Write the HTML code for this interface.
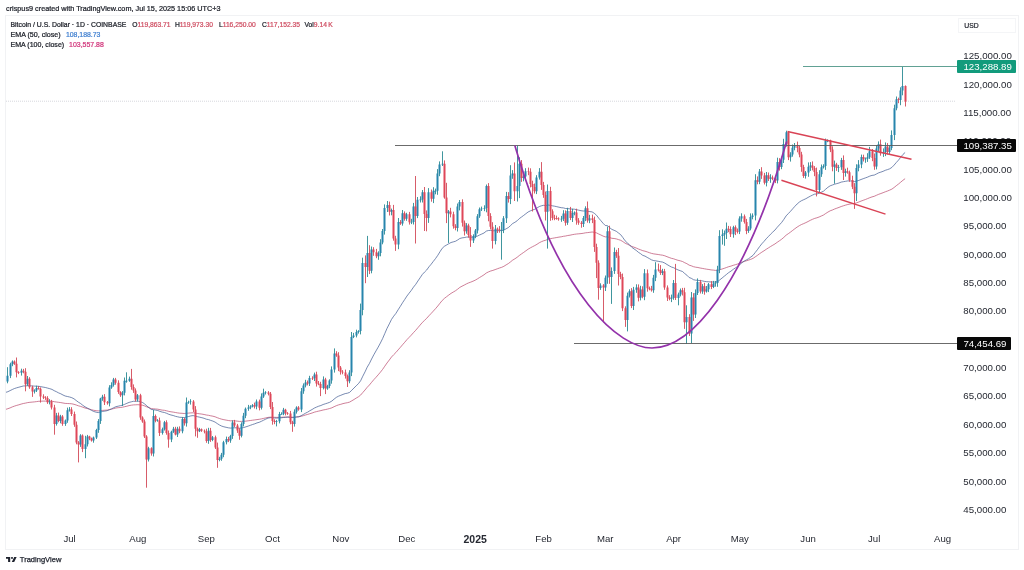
<!DOCTYPE html>
<html><head><meta charset="utf-8"><title>BTCUSD chart</title>
<style>
html,body{margin:0;padding:0;background:#fff;}
body{width:1024px;height:570px;position:relative;overflow:hidden;font-family:"Liberation Sans",sans-serif;color:#131722;}
.frame{position:absolute;left:5px;top:15px;width:1014px;height:534.5px;border:1px solid #f1f2f4;box-sizing:border-box;}
.hdr{-webkit-text-stroke:0.22px currentColor;position:absolute;left:6px;top:3.4px;font-size:7.27px;line-height:11px;color:#1a1d26;white-space:nowrap;}
.lg{position:absolute;-webkit-text-stroke:0.22px currentColor;font-size:7px;line-height:9px;white-space:nowrap;color:#1a1d26;}
.lg.v{font-size:6.72px;}
.lg .r{color:#cf4f63;} .lg.b{color:#3f7fd0;} .lg.p{color:#d1347a;}
.pl{position:absolute;left:963.3px;text-align:left;font-size:9.7px;line-height:12px;color:#262932;white-space:nowrap;}
.ml{position:absolute;top:533.2px;width:40px;text-align:center;font-size:9.6px;line-height:12px;color:#262932;}
.ml.b{font-weight:bold;font-size:10.5px;}
.tag{position:absolute;left:957px;height:12.8px;border-radius:1px;color:#fff;font-size:9.7px;line-height:13.4px;padding:0 4.2px 0 6.4px;white-space:nowrap;}
.usd{position:absolute;left:958px;top:17.5px;width:58px;height:15px;border:1px solid #f4f5f7;box-sizing:border-box;font-size:6.8px;line-height:14.4px;padding-left:5.3px;color:#1a1d26;-webkit-text-stroke:0.2px currentColor;}
.logo{position:absolute;left:6px;top:554px;font-size:7.55px;line-height:12px;font-weight:bold;color:#1e222d;white-space:nowrap;}
.logo span{position:absolute;left:13.8px;top:0;font-weight:normal;-webkit-text-stroke:0.25px currentColor;}
</style></head><body>
<div class="hdr">crispus9 created with TradingView.com, Jul 15, 2025 15:06 UTC+3</div>
<div class="frame"></div>
<div class="lg" style="top:20.3px;left:10.5px;font-size:6.87px">Bitcoin / U.S. Dollar &middot; 1D &middot; COINBASE</div>
<div class="lg v" style="top:20.3px;left:132.2px">O<span class="r">119,863.71</span></div>
<div class="lg v" style="top:20.3px;left:174.9px">H<span class="r">119,973.30</span></div>
<div class="lg v" style="top:20.3px;left:218.9px">L<span class="r">116,250.00</span></div>
<div class="lg v" style="top:20.3px;left:262px">C<span class="r">117,152.35</span></div>
<div class="lg v" style="top:20.3px;left:304.5px">Vol<span class="r">9.14&#8201;K</span></div>
<div class="lg" style="top:30.7px;left:10.5px;font-size:7.1px">EMA (50, close)</div><div class="lg b" style="top:30.2px;left:65.9px;font-size:6.9px">108,188.73</div>
<div class="lg" style="top:39.6px;left:10.5px;font-size:7.05px">EMA (100, close)</div><div class="lg p" style="top:39.6px;left:69.1px;font-size:6.95px">103,557.88</div>
<div class="usd">USD</div>
<div class="pl" style="top:50.1px">125,000.00</div><div class="pl" style="top:78.5px">120,000.00</div><div class="pl" style="top:106.8px">115,000.00</div><div class="pl" style="top:135.2px">110,000.00</div><div class="pl" style="top:163.5px">105,000.00</div><div class="pl" style="top:191.9px">100,000.00</div><div class="pl" style="top:220.3px">95,000.00</div><div class="pl" style="top:248.6px">90,000.00</div><div class="pl" style="top:277.0px">85,000.00</div><div class="pl" style="top:305.3px">80,000.00</div><div class="pl" style="top:333.7px">75,000.00</div><div class="pl" style="top:362.1px">70,000.00</div><div class="pl" style="top:390.4px">65,000.00</div><div class="pl" style="top:418.8px">60,000.00</div><div class="pl" style="top:447.1px">55,000.00</div><div class="pl" style="top:475.5px">50,000.00</div><div class="pl" style="top:503.9px">45,000.00</div><div class="ml" style="left:49.6px">Jul</div><div class="ml" style="left:117.9px">Aug</div><div class="ml" style="left:186.3px">Sep</div><div class="ml" style="left:252.4px">Oct</div><div class="ml" style="left:320.8px">Nov</div><div class="ml" style="left:386.9px">Dec</div><div class="ml b" style="left:455.2px">2025</div><div class="ml" style="left:523.6px">Feb</div><div class="ml" style="left:585.3px">Mar</div><div class="ml" style="left:653.6px">Apr</div><div class="ml" style="left:719.8px">May</div><div class="ml" style="left:788.1px">Jun</div><div class="ml" style="left:854.2px">Jul</div><div class="ml" style="left:922.6px">Aug</div><svg width="1024" height="570" viewBox="0 0 1024 570" style="position:absolute;left:0;top:0">
<defs><clipPath id="cp"><rect x="6" y="16" width="951" height="533"/></clipPath></defs>
<line x1="6" y1="101.2" x2="956" y2="101.2" stroke="#c4c7ce" stroke-width="1" stroke-dasharray="1 1" opacity="0.7"/>
<g clip-path="url(#cp)">
<polyline points="5.7,409.4 7.9,408.7 10.1,407.9 12.3,406.9 14.5,406.1 16.7,405.4 18.9,404.8 21.1,404.1 23.3,403.5 25.5,403.1 27.7,402.6 29.9,402.3 32.1,402.1 34.3,401.9 36.5,401.6 38.7,401.3 40.9,401.2 43.1,401.1 45.4,401.1 47.6,401.1 49.8,401.1 52.0,401.2 54.2,401.7 56.4,402.0 58.6,402.3 60.8,402.6 63.0,403.0 65.2,403.4 67.4,403.5 69.6,403.6 71.8,403.8 74.0,404.3 76.2,405.0 78.4,405.8 80.6,406.4 82.8,407.2 85.0,408.0 87.2,408.5 89.4,409.1 91.6,409.8 93.8,410.3 96.1,410.7 98.3,410.9 100.5,410.7 102.7,410.4 104.9,410.2 107.1,410.1 109.3,409.6 111.5,409.1 113.7,408.6 115.9,408.0 118.1,407.7 120.3,407.5 122.5,407.2 124.7,406.7 126.9,406.2 129.1,405.6 131.3,405.2 133.5,404.9 135.7,404.8 137.9,404.7 140.1,404.9 142.3,405.2 144.6,405.9 146.8,406.9 149.0,407.7 151.2,408.6 153.4,408.8 155.6,409.0 157.8,409.2 160.0,409.7 162.2,410.1 164.4,410.3 166.6,410.8 168.8,411.4 171.0,411.8 173.2,412.1 175.4,412.5 177.6,412.9 179.8,413.2 182.0,413.3 184.2,413.5 186.4,413.3 188.6,413.1 190.8,412.9 193.1,412.8 195.3,413.1 197.5,413.5 199.7,413.8 201.9,414.1 204.1,414.5 206.3,415.0 208.5,415.3 210.7,415.8 212.9,416.2 215.1,416.8 217.3,417.7 219.5,418.5 221.7,419.2 223.9,419.7 226.1,420.1 228.3,420.5 230.5,420.8 232.7,420.8 234.9,420.9 237.1,421.1 239.3,421.4 241.6,421.4 243.8,421.3 246.0,421.1 248.2,420.8 250.4,420.5 252.6,420.2 254.8,419.9 257.0,419.6 259.2,419.3 261.4,418.9 263.6,418.4 265.8,417.9 268.0,417.4 270.2,417.2 272.4,417.2 274.6,417.3 276.8,417.4 279.0,417.3 281.2,417.3 283.4,417.1 285.6,417.1 287.8,417.0 290.0,417.1 292.3,417.2 294.5,417.1 296.7,416.9 298.9,416.8 301.1,416.3 303.3,415.7 305.5,415.0 307.7,414.4 309.9,413.7 312.1,413.0 314.3,412.2 316.5,411.6 318.7,411.1 320.9,410.6 323.1,410.0 325.3,409.6 327.5,409.1 329.7,408.5 331.9,407.8 334.1,406.7 336.3,405.7 338.5,404.9 340.8,404.3 343.0,403.6 345.2,403.1 347.4,402.7 349.6,402.1 351.8,400.8 354.0,399.5 356.2,398.1 358.4,396.8 360.6,395.1 362.8,392.5 365.0,390.0 367.2,387.3 369.4,385.0 371.6,382.3 373.8,379.7 376.0,377.3 378.2,374.8 380.4,372.2 382.6,369.4 384.8,366.2 387.0,363.0 389.3,360.0 391.5,357.0 393.7,354.7 395.9,352.5 398.1,349.9 400.3,347.4 402.5,344.8 404.7,342.3 406.9,339.7 409.1,337.4 411.3,335.1 413.5,332.6 415.7,330.3 417.9,327.7 420.1,325.1 422.3,322.5 424.5,320.4 426.7,318.3 428.9,315.8 431.1,313.5 433.3,311.1 435.5,308.7 437.8,306.0 440.0,303.2 442.2,300.5 444.4,298.4 446.6,296.7 448.8,295.0 451.0,293.4 453.2,292.1 455.4,290.8 457.6,289.2 459.8,287.4 462.0,286.2 464.2,285.1 466.4,283.9 468.6,282.9 470.8,282.1 473.0,281.2 475.2,280.2 477.4,278.9 479.6,277.5 481.8,276.2 484.0,274.8 486.3,273.0 488.5,271.9 490.7,271.0 492.9,270.4 495.1,269.6 497.3,268.8 499.5,268.0 501.7,267.3 503.9,266.3 506.1,264.9 508.3,263.6 510.5,261.9 512.7,260.1 514.9,258.8 517.1,257.3 519.3,255.5 521.5,253.9 523.7,252.4 525.9,250.8 528.1,249.2 530.3,247.9 532.5,246.7 534.7,245.6 537.0,244.3 539.2,242.8 541.4,241.7 543.6,240.8 545.8,240.2 548.0,239.2 550.2,238.7 552.4,238.3 554.6,237.9 556.8,237.5 559.0,237.1 561.2,236.8 563.4,236.3 565.6,236.0 567.8,235.5 570.0,235.2 572.2,234.7 574.4,234.3 576.6,234.0 578.8,233.8 581.0,233.6 583.2,233.3 585.5,232.8 587.7,232.6 589.9,232.3 592.1,232.0 594.3,232.3 596.5,232.9 598.7,234.0 600.9,235.0 603.1,236.1 605.3,236.9 607.5,236.8 609.7,237.6 611.9,238.3 614.1,238.5 616.3,238.9 618.5,239.6 620.7,240.3 622.9,241.6 625.1,243.2 627.3,244.2 629.5,245.2 631.7,246.4 634.0,247.2 636.2,248.0 638.4,249.0 640.6,249.8 642.8,250.7 645.0,251.2 647.2,251.9 649.4,252.7 651.6,253.4 653.8,253.9 656.0,254.2 658.2,254.5 660.4,254.9 662.6,255.2 664.8,255.8 667.0,256.7 669.2,257.5 671.4,258.3 673.6,258.8 675.8,259.6 678.0,260.3 680.2,260.8 682.5,261.5 684.7,262.7 686.9,263.7 689.1,265.1 691.3,265.8 693.5,266.7 695.7,267.2 697.9,267.5 700.1,268.0 702.3,268.4 704.5,268.8 706.7,269.2 708.9,269.5 711.1,269.9 713.3,270.1 715.5,270.4 717.7,270.4 719.9,269.7 722.1,269.0 724.3,268.3 726.5,267.5 728.7,266.7 731.0,266.1 733.2,265.3 735.4,264.7 737.6,264.0 739.8,263.1 742.0,262.2 744.2,261.4 746.4,260.8 748.6,260.1 750.8,259.3 753.0,258.4 755.2,256.9 757.4,255.4 759.6,253.7 761.8,252.2 764.0,250.8 766.2,249.3 768.4,247.9 770.6,246.5 772.8,245.2 775.0,243.9 777.2,242.3 779.4,240.8 781.7,239.2 783.9,237.3 786.1,235.2 788.3,233.7 790.5,232.1 792.7,230.4 794.9,228.7 797.1,227.1 799.3,225.7 801.5,224.5 803.7,223.6 805.9,222.6 808.1,221.5 810.3,220.3 812.5,219.3 814.7,218.4 816.9,217.8 819.1,217.0 821.3,216.0 823.5,215.0 825.7,213.5 827.9,212.1 830.2,210.8 832.4,210.0 834.6,209.0 836.8,208.2 839.0,207.4 841.2,206.5 843.4,205.8 845.6,205.1 847.8,204.5 850.0,204.0 852.2,203.7 854.4,203.5 856.6,202.8 858.8,202.0 861.0,201.1 863.2,200.3 865.4,199.5 867.6,198.6 869.8,197.7 872.0,196.9 874.2,196.3 876.4,195.3 878.7,194.3 880.9,193.5 883.1,192.7 885.3,191.8 887.5,191.0 889.7,190.1 891.9,189.1 894.1,187.5 896.3,185.7 898.5,184.0 900.7,182.2 902.9,180.3 905.1,178.7" fill="none" stroke="#b9486b" stroke-width="0.7" stroke-linejoin="round"/>
<polyline points="5.7,392.4 7.9,391.7 10.1,390.6 12.3,389.5 14.5,388.5 16.7,387.8 18.9,387.2 21.1,386.6 23.3,386.0 25.5,385.9 27.7,385.7 29.9,385.7 32.1,386.0 34.3,386.1 36.5,386.2 38.7,386.3 40.9,386.7 43.1,387.1 45.4,387.5 47.6,388.1 49.8,388.7 52.0,389.4 54.2,390.7 56.4,391.7 58.6,392.9 60.8,393.8 63.0,395.0 65.2,396.0 67.4,396.5 69.6,397.0 71.8,397.7 74.0,398.8 76.2,400.5 78.4,402.2 80.6,403.5 82.8,405.3 85.0,406.8 87.2,408.0 89.4,409.2 91.6,410.4 93.8,411.5 96.1,412.2 98.3,412.6 100.5,412.0 102.7,411.4 104.9,411.1 107.1,410.7 109.3,409.8 111.5,408.9 113.7,407.7 115.9,406.7 118.1,406.2 120.3,405.7 122.5,405.2 124.7,404.3 126.9,403.3 129.1,402.4 131.3,401.8 133.5,401.3 135.7,401.3 137.9,401.0 140.1,401.7 142.3,402.4 144.6,403.8 146.8,406.0 149.0,407.6 151.2,409.4 153.4,409.7 155.6,410.1 157.8,410.5 160.0,411.4 162.2,412.1 164.4,412.5 166.6,413.3 168.8,414.3 171.0,415.0 173.2,415.5 175.4,416.3 177.6,416.8 179.8,417.3 182.0,417.4 184.2,417.6 186.4,417.0 188.6,416.5 190.8,415.9 193.1,415.6 195.3,416.1 197.5,416.7 199.7,417.2 201.9,417.7 204.1,418.3 206.3,419.2 208.5,419.6 210.7,420.4 212.9,421.1 215.1,422.1 217.3,423.6 219.5,425.0 221.7,426.1 223.9,426.8 226.1,427.3 228.3,427.8 230.5,428.1 232.7,427.9 234.9,427.8 237.1,427.9 239.3,428.2 241.6,428.0 243.8,427.5 246.0,426.8 248.2,426.1 250.4,425.3 252.6,424.5 254.8,423.8 257.0,422.9 259.2,422.3 261.4,421.3 263.6,420.2 265.8,419.1 268.0,418.1 270.2,417.7 272.4,417.8 274.6,418.0 276.8,418.1 279.0,417.9 281.2,417.8 283.4,417.5 285.6,417.3 287.8,417.1 290.0,417.3 292.3,417.6 294.5,417.4 296.7,417.0 298.9,416.7 301.1,415.7 303.3,414.5 305.5,413.2 307.7,412.1 309.9,410.7 312.1,409.5 314.3,408.1 316.5,407.1 318.7,406.2 320.9,405.5 323.1,404.5 325.3,403.8 327.5,403.1 329.7,402.3 331.9,401.0 334.1,399.1 336.3,397.4 338.5,396.2 340.8,395.3 343.0,394.4 345.2,393.6 347.4,393.2 349.6,392.4 351.8,390.2 354.0,388.0 356.2,385.8 358.4,383.7 360.6,380.8 362.8,376.2 365.0,371.9 367.2,367.2 369.4,363.5 371.6,359.0 373.8,354.8 376.0,350.9 378.2,347.1 380.4,343.0 382.6,338.6 384.8,333.5 387.0,328.4 389.3,323.9 391.5,319.4 393.7,316.2 395.9,313.4 398.1,309.8 400.3,306.4 402.5,302.8 404.7,299.5 406.9,296.1 409.1,293.2 411.3,290.4 413.5,287.1 415.7,284.4 417.9,281.0 420.1,277.8 422.3,274.5 424.5,272.1 426.7,270.0 428.9,266.9 431.1,264.3 433.3,261.4 435.5,258.6 437.8,255.3 440.0,251.7 442.2,248.3 444.4,246.3 446.6,245.0 448.8,243.7 451.0,242.5 453.2,241.9 455.4,241.3 457.6,240.0 459.8,238.5 462.0,237.9 464.2,237.6 466.4,237.1 468.6,237.0 470.8,237.2 473.0,237.1 475.2,236.9 477.4,236.1 479.6,235.0 481.8,234.0 484.0,233.0 486.3,231.1 488.5,230.5 490.7,230.4 492.9,230.8 495.1,230.7 497.3,230.7 499.5,230.6 501.7,230.6 503.9,230.1 506.1,228.8 508.3,227.6 510.5,225.6 512.7,223.5 514.9,222.3 517.1,220.8 519.3,218.6 521.5,217.0 523.7,215.4 525.9,213.7 528.1,212.0 530.3,210.9 532.5,210.0 534.7,209.3 537.0,208.0 539.2,206.6 541.4,205.8 543.6,205.3 545.8,205.6 548.0,205.0 550.2,205.3 552.4,205.8 554.6,206.2 556.8,206.7 559.0,207.2 561.2,207.7 563.4,207.9 565.6,208.5 567.8,208.6 570.0,208.9 572.2,209.1 574.4,209.2 576.6,209.7 578.8,210.2 581.0,210.7 583.2,211.0 585.5,210.9 587.7,211.3 589.9,211.6 592.1,211.9 594.3,213.3 596.5,215.2 598.7,218.1 600.9,220.7 603.1,223.3 605.3,225.5 607.5,225.7 609.7,227.7 611.9,229.4 614.1,230.3 616.3,231.3 618.5,233.0 620.7,234.7 622.9,237.6 625.1,240.8 627.3,242.9 629.5,244.8 631.7,247.2 634.0,248.9 636.2,250.4 638.4,252.3 640.6,253.7 642.8,255.4 645.0,256.1 647.2,257.4 649.4,258.6 651.6,259.9 653.8,260.6 656.0,260.9 658.2,261.3 660.4,261.7 662.6,262.1 664.8,263.1 667.0,264.5 669.2,265.8 671.4,267.0 673.6,267.7 675.8,268.9 678.0,269.9 680.2,270.7 682.5,271.5 684.7,273.5 686.9,275.2 689.1,277.5 691.3,278.3 693.5,279.7 695.7,280.2 697.9,280.3 700.1,280.7 702.3,280.9 704.5,281.4 706.7,281.7 708.9,281.8 711.1,282.0 713.3,282.0 715.5,282.1 717.7,281.6 719.9,279.8 722.1,278.0 724.3,276.2 726.5,274.4 728.7,272.6 731.0,271.1 733.2,269.4 735.4,267.9 737.6,266.5 739.8,264.6 742.0,262.7 744.2,261.1 746.4,259.9 748.6,258.7 750.8,257.0 753.0,255.4 755.2,252.5 757.4,249.7 759.6,246.6 761.8,243.8 764.0,241.4 766.2,238.8 768.4,236.5 770.6,234.2 772.8,232.0 775.0,230.0 777.2,227.3 779.4,224.9 781.7,222.4 783.9,219.3 786.1,215.9 788.3,213.6 790.5,211.3 792.7,208.8 794.9,206.3 797.1,204.0 799.3,202.1 801.5,200.7 803.7,199.7 805.9,198.7 808.1,197.4 810.3,196.2 812.5,195.1 814.7,194.1 816.9,194.0 819.1,193.2 821.3,192.2 823.5,191.2 825.7,189.2 827.9,187.3 830.2,185.8 832.4,185.0 834.6,184.2 836.8,183.6 839.0,183.0 841.2,182.1 843.4,181.7 845.6,181.3 847.8,180.9 850.0,180.9 852.2,181.1 854.4,181.6 856.6,181.1 858.8,180.4 861.0,179.5 863.2,178.7 865.4,177.9 867.6,177.1 869.8,176.1 872.0,175.4 874.2,175.1 876.4,174.0 878.7,172.8 880.9,172.1 883.1,171.3 885.3,170.3 887.5,169.6 889.7,168.8 891.9,167.4 894.1,165.1 896.3,162.5 898.5,160.1 900.7,157.3 902.9,154.5 905.1,152.5" fill="none" stroke="#3d588f" stroke-width="0.7" stroke-linejoin="round"/>
<path d="M7.50 367.2V383.3M10.50 362.7V378.1M12.50 360.4V366.2M21.50 368.7V375.6M27.50 376.0V385.8M34.50 389.3V393.5M36.50 385.7V392.0M49.50 399.2V404.4M56.50 412.9V425.6M60.50 414.8V423.3M65.50 419.5V425.9M67.50 407.6V422.8M69.50 407.1V411.6M80.50 434.2V446.9M85.50 435.8V458.2M87.50 434.9V446.5M93.50 436.6V442.7M96.50 428.8V439.0M98.50 419.1V432.8M100.50 397.8V423.9M102.50 394.8V400.8M109.50 385.2V406.4M111.50 382.3V388.8M113.50 377.9V386.6M122.50 391.1V406.0M124.50 377.5V395.4M126.50 372.3V382.7M129.50 376.6V381.8M137.50 394.0V401.6M148.50 446.8V461.5M153.50 410.0V456.5M157.50 419.1V421.7M162.50 427.6V434.6M164.50 420.9V430.5M171.50 430.7V442.1M173.50 426.9V432.9M177.50 426.8V437.0M182.50 417.2V433.3M186.50 397.5V426.6M188.50 400.7V403.8M190.50 399.2V404.6M199.50 427.9V432.1M208.50 427.8V443.8M212.50 436.0V441.2M219.50 456.8V461.3M221.50 452.9V460.8M223.50 440.8V457.2M226.50 436.6V444.4M230.50 434.8V442.8M232.50 420.4V438.9M241.50 422.3V437.4M243.50 412.9V426.4M245.50 407.5V418.2M248.50 404.9V410.8M250.50 405.2V409.2M252.50 404.1V407.4M256.50 399.5V409.3M261.50 393.4V409.5M263.50 388.7V397.9M265.50 391.2V394.5M276.50 419.9V426.4M279.50 411.9V423.4M281.50 412.3V414.7M283.50 407.9V415.2M294.50 409.3V426.6M296.50 406.3V413.6M301.50 388.0V412.1M303.50 383.4V393.8M305.50 379.8V387.4M309.50 375.8V386.0M314.50 372.6V381.0M323.50 376.4V389.4M327.50 384.8V389.8M329.50 379.3V388.2M331.50 366.4V383.7M334.50 348.4V372.6M349.50 370.2V383.3M351.50 332.0V376.1M353.50 332.9V338.1M356.50 329.7V337.4M358.50 330.2V333.6M360.50 303.6V334.4M362.50 257.7V315.3M367.50 235.9V277.0M371.50 246.5V273.3M378.50 251.3V259.8M380.50 239.2V256.3M382.50 229.0V244.3M384.50 204.4V234.6M387.50 201.0V212.0M391.50 208.6V215.3M398.50 218.0V249.2M402.50 210.0V225.7M406.50 212.8V220.8M411.50 218.8V224.1M413.50 202.9V224.5M417.50 197.0V218.1M420.50 196.3V202.5M422.50 190.0V202.5M428.50 188.1V222.9M433.50 187.2V203.1M435.50 188.6V194.3M437.50 169.1V194.8M439.50 161.4V176.2M442.50 151.3V166.0M448.50 210.0V242.9M457.50 203.5V231.5M459.50 200.0V210.4M466.50 223.1V233.7M473.50 234.3V243.0M475.50 229.0V238.2M477.50 214.1V233.5M479.50 207.5V217.9M481.50 206.6V211.0M484.50 205.3V211.2M486.50 184.5V212.3M495.50 225.0V244.4M501.50 222.0V259.7M503.50 216.1V233.1M506.50 191.9V223.0M510.50 165.2V204.1M512.50 170.1V178.8M517.50 145.7V201.5M519.50 157.3V198.1M523.50 173.5V181.3M525.50 168.2V178.1M536.50 175.2V194.1M539.50 168.1V179.6M547.50 184.5V248.6M561.50 215.9V221.8M563.50 210.2V221.0M567.50 207.8V224.9M572.50 208.8V222.0M574.50 211.4V215.3M583.50 216.0V227.0M585.50 206.3V221.1M589.50 214.8V223.2M600.50 283.3V289.9M605.50 275.5V291.0M607.50 226.5V283.8M611.50 267.4V303.9M614.50 247.5V273.9M627.50 292.6V331.4M629.50 289.3V297.5M633.50 286.9V310.0M636.50 284.3V292.8M640.50 285.8V300.4M644.50 269.1V300.2M653.50 274.9V292.8M655.50 262.2V281.1M662.50 268.8V275.1M671.50 294.6V302.1M673.50 280.0V299.8M678.50 292.6V305.3M680.50 288.5V296.4M686.50 305.3V343.9M691.50 292.0V343.1M695.50 289.4V318.0M697.50 278.4V295.0M702.50 284.1V293.8M706.50 286.0V292.6M708.50 283.0V292.1M713.50 280.9V288.1M715.50 281.0V286.7M717.50 265.8V286.8M719.50 230.2V273.2M722.50 229.3V244.6M724.50 230.5V245.8M726.50 222.5V239.0M733.50 225.8V237.7M739.50 216.3V234.1M741.50 213.3V221.7M748.50 226.2V232.9M750.50 213.4V230.3M752.50 213.4V219.3M755.50 174.2V220.4M759.50 169.0V184.2M766.50 172.0V186.4M770.50 174.2V182.8M777.50 157.7V183.4M781.50 156.7V169.2M783.50 138.8V163.0M786.50 130.7V146.6M790.50 152.2V161.6M792.50 144.5V156.7M794.50 143.0V150.3M805.50 171.0V178.6M808.50 162.4V176.8M810.50 162.1V170.9M819.50 170.2V193.1M821.50 164.5V176.9M823.50 164.3V168.5M825.50 138.6V169.9M827.50 139.4V142.2M834.50 160.6V183.7M838.50 164.9V172.1M841.50 157.9V169.9M845.50 168.7V176.6M856.50 164.3V201.0M858.50 160.1V171.3M861.50 154.6V168.2M865.50 157.5V162.8M867.50 153.2V161.9M869.50 146.9V158.9M876.50 145.0V169.4M878.50 141.4V151.5M883.50 148.4V156.9M885.50 142.4V156.1M889.50 145.5V154.5M891.50 130.4V150.2M894.50 104.7V140.1M896.50 96.5V110.3M900.50 87.3V105.2M902.50 66.9V95.3" stroke="#2a8a93" stroke-width="0.9" fill="none"/>
<path d="M14.50 360.4V364.9M16.50 357.5V377.4M18.50 371.2V374.1M23.50 368.9V373.3M25.50 368.2V391.3M29.50 377.2V388.8M32.50 385.7V396.9M38.50 386.0V389.6M40.50 387.4V402.6M43.50 394.3V399.1M45.50 396.2V399.9M47.50 396.2V403.9M51.50 399.9V409.5M54.50 404.8V434.7M58.50 412.6V422.3M62.50 415.1V425.8M71.50 407.2V416.0M74.50 411.6V426.8M76.50 421.5V444.3M78.50 441.1V462.4M82.50 434.4V452.1M89.50 435.8V440.2M91.50 437.6V441.6M104.50 394.1V405.0M107.50 401.0V404.7M115.50 377.9V384.7M118.50 380.3V393.9M120.50 391.2V396.9M131.50 368.9V389.7M133.50 384.4V392.9M135.50 388.4V401.5M140.50 393.8V419.8M142.50 416.3V422.8M144.50 419.5V438.0M146.50 435.2V487.7M151.50 447.3V455.7M155.50 414.5V422.3M159.50 417.6V436.0M166.50 420.3V434.7M168.50 430.5V447.7M175.50 426.8V435.4M179.50 426.4V433.2M184.50 417.8V425.6M193.50 400.1V412.0M195.50 406.1V436.4M197.50 427.5V437.8M201.50 428.5V431.9M204.50 429.5V433.4M206.50 428.7V442.8M210.50 427.9V441.9M215.50 435.6V449.0M217.50 442.6V467.8M228.50 436.9V442.1M234.50 419.9V427.1M237.50 423.9V432.9M239.50 428.2V439.8M254.50 402.6V408.5M259.50 399.6V410.4M268.50 391.1V395.4M270.50 392.0V409.1M272.50 402.0V424.7M274.50 419.3V424.2M285.50 408.8V415.4M287.50 412.1V414.9M290.50 410.9V424.3M292.50 420.8V431.8M298.50 406.1V410.7M307.50 380.5V385.4M312.50 376.3V380.0M316.50 371.7V386.6M318.50 381.0V385.2M320.50 381.8V396.1M325.50 377.8V394.1M336.50 351.2V356.8M338.50 352.2V371.1M340.50 366.0V374.6M342.50 370.1V374.3M345.50 369.6V378.6M347.50 374.5V387.0M365.50 255.4V283.2M369.50 245.2V274.1M373.50 247.2V255.8M376.50 248.9V258.2M389.50 201.6V215.5M393.50 204.9V240.7M395.50 235.8V250.9M400.50 220.1V224.9M404.50 211.4V220.7M409.50 211.9V224.6M415.50 176.0V243.5M424.50 187.0V231.0M426.50 210.4V231.3M431.50 189.5V201.7M444.50 160.4V198.7M446.50 182.8V223.1M450.50 207.8V217.4M453.50 211.7V228.7M455.50 224.2V230.3M462.50 199.3V226.6M464.50 220.5V235.5M468.50 223.7V237.7M470.50 227.1V246.9M488.50 183.1V221.3M490.50 213.2V229.4M492.50 222.2V248.6M497.50 227.5V233.0M499.50 226.1V232.7M508.50 192.2V202.6M514.50 162.4V201.0M521.50 160.1V181.9M528.50 167.6V175.2M530.50 168.3V187.4M532.50 180.7V211.5M534.50 183.5V193.5M541.50 162.1V189.9M543.50 181.9V197.8M545.50 191.5V220.5M550.50 186.8V220.8M552.50 209.3V220.2M554.50 214.8V220.2M556.50 215.6V219.7M558.50 217.3V220.7M565.50 210.4V225.7M570.50 206.9V220.1M576.50 208.7V224.7M578.50 218.1V224.8M581.50 221.1V227.7M587.50 201.5V222.7M592.50 214.6V223.1M594.50 216.6V251.9M596.50 243.7V278.1M598.50 260.3V299.7M603.50 284.1V322.3M609.50 225.7V283.8M616.50 249.8V257.9M618.50 248.0V285.5M620.50 271.8V279.2M622.50 273.5V311.1M625.50 306.3V326.9M631.50 288.1V308.1M638.50 284.4V301.4M642.50 286.3V298.3M647.50 269.5V291.7M649.50 286.6V290.3M651.50 285.9V291.6M658.50 263.6V271.5M660.50 265.1V274.9M664.50 268.9V289.8M667.50 285.4V301.0M669.50 295.2V300.3M675.50 263.9V300.0M682.50 287.9V295.5M684.50 287.8V328.9M689.50 314.2V336.0M693.50 293.2V320.9M700.50 279.9V293.5M704.50 282.8V294.7M711.50 281.1V289.1M728.50 225.9V232.2M730.50 226.4V237.0M735.50 225.4V235.1M737.50 228.5V233.5M744.50 214.5V223.6M746.50 218.9V234.2M757.50 176.4V184.3M761.50 167.2V178.9M764.50 172.9V184.5M768.50 172.5V181.0M772.50 175.5V180.2M775.50 176.6V183.1M779.50 158.2V170.6M788.50 131.8V160.1M797.50 141.6V152.3M799.50 145.9V157.3M801.50 151.8V171.8M803.50 164.8V177.9M812.50 161.4V170.4M814.50 166.1V176.2M816.50 167.6V196.4M830.50 139.7V152.1M832.50 146.3V171.3M836.50 162.8V170.9M843.50 155.4V180.0M847.50 167.7V173.7M849.50 170.6V181.8M852.50 175.7V189.1M854.50 183.1V208.9M863.50 154.7V161.5M872.50 149.0V161.2M874.50 153.5V169.8M880.50 139.6V155.7M887.50 143.1V154.5M898.50 97.7V103.2M905.50 85.4V106.5" stroke="#d24a58" stroke-width="0.9" fill="none"/>
<path d="M7.50 375.7V381.5M10.50 364.3V375.7M12.50 361.5V364.3M21.50 370.8V372.8M27.50 378.8V384.2M34.50 390.4V391.5M36.50 387.9V390.4M49.50 401.5V402.3M56.50 415.4V423.9M60.50 416.5V421.0M65.50 420.5V423.9M67.50 410.3V420.5M69.50 409.4V410.3M80.50 435.5V444.6M85.50 444.3V449.1M87.50 436.6V444.3M93.50 437.5V440.6M96.50 430.1V437.5M98.50 421.0V430.1M100.50 398.4V421.0M102.50 396.7V398.4M109.50 387.6V403.2M111.50 385.0V387.6M113.50 379.4V385.0M122.50 392.7V395.2M124.50 380.8V392.7M126.50 380.8V381.4M129.50 378.8V380.8M137.50 395.2V399.5M148.50 448.3V459.6M153.50 415.9V453.4M157.50 420.5V421.1M162.50 429.3V433.0M164.50 422.2V429.3M171.50 431.8V439.5M173.50 428.7V431.8M177.50 428.7V434.4M182.50 419.1V431.3M186.50 402.6V423.3M188.50 402.0V402.6M190.50 401.5V402.1M199.50 429.3V431.3M208.50 430.7V440.9M212.50 437.2V440.0M219.50 458.8V459.9M221.50 454.8V458.8M223.50 442.3V454.8M226.50 438.9V442.3M230.50 436.1V440.6M232.50 422.5V436.1M241.50 423.9V435.8M243.50 415.7V423.9M245.50 408.8V415.7M248.50 407.4V408.8M250.50 406.6V407.4M252.50 405.2V406.6M256.50 401.5V406.6M261.50 396.4V407.7M263.50 392.7V396.4M265.50 392.4V393.0M276.50 421.3V421.9M279.50 414.0V421.3M281.50 414.0V414.6M283.50 409.7V414.0M294.50 411.7V423.9M296.50 407.4V411.7M301.50 391.3V409.4M303.50 385.6V391.3M305.50 382.5V385.6M309.50 377.9V383.6M314.50 374.5V378.2M323.50 379.4V387.9M327.50 385.9V388.4M329.50 380.5V385.9M331.50 369.4V380.5M334.50 353.5V369.4M349.50 372.5V381.3M351.50 337.1V372.5M353.50 335.4V337.1M356.50 332.0V335.4M358.50 331.1V332.0M360.50 309.9V331.1M362.50 263.1V309.9M367.50 252.9V267.0M371.50 249.5V270.7M378.50 252.9V256.3M380.50 242.4V252.9M382.50 231.0V242.4M384.50 208.1V231.0M387.50 204.9V208.1M391.50 210.0V211.7M398.50 222.0V244.4M402.50 213.2V223.4M406.50 214.3V218.8M411.50 222.0V222.6M413.50 206.4V222.0M417.50 199.8V216.0M420.50 199.6V200.2M422.50 192.2V199.6M428.50 192.2V218.0M433.50 190.8V198.7M435.50 190.8V191.4M437.50 173.5V190.8M439.50 164.4V173.5M442.50 163.8V164.4M448.50 211.5V213.2M457.50 206.4V227.9M459.50 202.1V206.4M466.50 225.4V231.3M473.50 236.1V240.4M475.50 230.5V236.1M477.50 216.3V230.5M479.50 209.2V216.3M481.50 208.6V209.2M484.50 208.1V208.7M486.50 185.9V208.1M495.50 228.8V241.0M501.50 229.9V230.5M503.50 218.3V229.9M506.50 195.9V218.3M510.50 175.4V199.0M512.50 173.5V175.4M517.50 185.9V191.3M519.50 163.8V185.9M523.50 176.6V178.0M525.50 171.2V176.6M536.50 177.4V191.3M539.50 171.8V177.4M547.50 191.0V211.7M561.50 218.8V219.4M563.50 213.4V218.8M567.50 210.9V222.8M572.50 212.9V218.0M574.50 212.6V213.2M583.50 218.0V223.9M585.50 208.3V218.0M589.50 218.3V220.5M600.50 285.5V288.0M605.50 277.8V287.5M607.50 231.3V277.8M611.50 271.0V277.0M614.50 252.0V271.0M627.50 295.7V320.1M629.50 291.2V295.7M633.50 289.7V305.9M636.50 287.5V289.7M640.50 289.5V297.7M644.50 273.3V296.8M653.50 277.8V290.3M655.50 269.6V277.8M662.50 271.3V273.0M671.50 297.7V298.8M673.50 282.9V297.7M678.50 294.6V298.0M680.50 290.3V294.6M686.50 317.0V322.3M691.50 297.4V333.4M695.50 292.9V314.4M697.50 282.1V292.9M702.50 286.3V291.4M706.50 289.2V291.4M708.50 284.3V289.2M713.50 283.5V286.9M715.50 282.9V283.5M717.50 269.6V282.9M719.50 235.9V269.6M722.50 234.4V235.9M724.50 233.0V234.4M726.50 228.8V233.0M733.50 227.3V234.2M739.50 218.6V231.6M741.50 216.3V218.6M748.50 228.5V231.0M750.50 216.9V228.5M752.50 215.4V216.9M755.50 180.3V215.4M759.50 171.5V181.7M766.50 175.2V182.8M770.50 177.4V178.8M777.50 162.1V180.5M781.50 159.8V166.9M783.50 144.0V159.8M786.50 132.3V144.0M790.50 154.5V157.3M792.50 147.7V154.5M794.50 145.1V147.7M805.50 172.6V176.0M808.50 166.7V172.6M810.50 165.5V166.7M819.50 174.3V189.9M821.50 167.2V174.3M823.50 166.1V167.2M825.50 140.6V166.1M827.50 140.6V141.2M834.50 164.4V166.7M838.50 167.2V168.1M841.50 160.1V167.2M845.50 171.2V172.9M856.50 168.1V193.3M858.50 164.4V168.1M861.50 157.0V164.4M865.50 158.7V159.3M867.50 157.3V158.7M869.50 151.3V157.3M876.50 148.5V166.4M878.50 144.2V148.5M883.50 152.2V153.3M885.50 146.5V152.2M889.50 147.9V151.9M891.50 134.9V147.9M894.50 108.2V134.9M896.50 99.2V108.2M900.50 90.4V100.0M902.50 86.1V90.4" stroke="#2785ad" stroke-width="2.0" fill="none"/>
<path d="M14.50 361.5V363.8M16.50 363.8V372.3M18.50 372.3V372.9M23.50 370.8V371.7M25.50 371.7V384.2M29.50 378.8V387.3M32.50 387.3V391.5M38.50 387.9V388.7M40.50 388.7V396.4M43.50 396.4V397.5M45.50 397.5V398.1M47.50 398.1V402.3M51.50 401.5V407.4M54.50 407.4V423.9M58.50 415.4V421.0M62.50 416.5V423.9M71.50 409.4V414.0M74.50 414.0V424.7M76.50 424.7V442.6M78.50 442.6V444.6M82.50 435.5V449.1M89.50 436.6V438.6M91.50 438.6V440.6M104.50 396.7V402.3M107.50 402.3V403.2M115.50 379.4V382.8M118.50 382.8V392.1M120.50 392.1V395.2M131.50 378.8V387.0M133.50 387.0V390.4M135.50 390.4V399.5M140.50 395.2V417.6M142.50 417.6V421.6M144.50 421.6V436.4M146.50 436.4V459.6M151.50 448.3V453.4M155.50 415.9V420.8M159.50 420.5V433.0M166.50 422.2V433.0M168.50 433.0V439.5M175.50 428.7V434.4M179.50 428.7V431.3M184.50 419.1V423.3M193.50 401.5V409.4M195.50 409.4V428.7M197.50 428.7V431.3M201.50 429.3V430.7M204.50 430.7V431.5M206.50 431.5V440.9M210.50 430.7V440.0M215.50 437.2V447.4M217.50 447.4V459.9M228.50 438.9V440.6M234.50 422.5V425.6M237.50 425.6V430.4M239.50 430.4V435.8M254.50 405.2V406.6M259.50 401.5V407.7M268.50 392.4V393.8M270.50 393.8V406.9M272.50 406.9V421.0M274.50 421.0V421.9M285.50 409.7V413.1M287.50 413.1V413.7M290.50 413.4V422.2M292.50 422.2V423.9M298.50 407.4V409.4M307.50 382.5V383.6M312.50 377.9V378.5M316.50 374.5V383.6M318.50 383.6V384.2M320.50 383.9V387.9M325.50 379.4V388.4M336.50 353.5V355.5M338.50 355.5V367.4M340.50 367.4V371.7M342.50 371.7V372.5M345.50 372.5V375.9M347.50 375.9V381.3M365.50 263.1V267.0M369.50 252.9V270.7M373.50 249.5V252.3M376.50 252.3V256.3M389.50 204.9V211.7M393.50 210.0V238.4M395.50 238.4V244.4M400.50 222.0V223.4M404.50 213.2V218.8M409.50 214.3V222.2M415.50 206.4V216.0M424.50 192.2V214.0M426.50 214.0V218.0M431.50 192.2V198.7M444.50 163.8V197.6M446.50 197.6V213.2M450.50 211.5V214.3M453.50 214.3V226.2M455.50 226.2V227.9M462.50 202.1V222.8M464.50 222.8V231.3M468.50 225.4V235.0M470.50 235.0V240.4M488.50 185.9V216.0M490.50 216.0V226.8M492.50 226.8V241.0M497.50 228.8V229.6M499.50 229.6V230.2M508.50 195.9V199.0M514.50 173.5V191.3M521.50 163.8V178.0M528.50 171.2V171.8M530.50 171.8V184.0M532.50 184.0V187.1M534.50 187.1V191.3M541.50 171.8V185.1M543.50 185.1V195.0M545.50 195.0V211.7M550.50 191.0V211.2M552.50 211.2V218.0M554.50 218.0V218.6M556.50 218.3V218.9M558.50 218.6V219.2M565.50 213.4V222.8M570.50 210.9V218.0M576.50 212.6V220.5M578.50 220.5V222.8M581.50 222.8V223.9M587.50 208.3V220.5M592.50 218.3V220.0M594.50 220.0V246.9M596.50 246.9V262.8M598.50 262.8V288.0M603.50 285.5V287.5M609.50 231.3V277.0M616.50 252.0V255.7M618.50 255.7V273.9M620.50 273.9V277.0M622.50 277.0V308.2M625.50 308.2V320.1M631.50 291.2V305.9M638.50 287.5V297.7M642.50 289.5V296.8M647.50 273.3V288.3M649.50 288.3V289.2M651.50 289.2V290.3M658.50 269.6V270.2M660.50 269.9V273.0M664.50 271.3V287.5M667.50 287.5V297.4M669.50 297.4V298.8M675.50 282.9V298.0M682.50 290.3V292.3M684.50 292.3V322.3M689.50 317.0V333.4M693.50 297.4V314.4M700.50 282.1V291.4M704.50 286.3V291.4M711.50 284.3V286.9M728.50 228.8V229.4M730.50 229.0V234.2M735.50 227.3V231.3M737.50 231.3V231.9M744.50 216.3V222.0M746.50 222.0V231.0M757.50 180.3V181.7M761.50 171.5V175.4M764.50 175.4V182.8M768.50 175.2V178.8M772.50 177.4V178.8M775.50 178.8V180.5M779.50 162.1V166.9M788.50 132.3V157.3M797.50 145.1V147.9M799.50 147.9V154.5M801.50 154.5V166.9M803.50 166.9V176.0M812.50 165.5V168.1M814.50 168.1V172.0M816.50 172.0V189.9M830.50 140.6V149.6M832.50 149.6V166.7M836.50 164.4V168.1M843.50 160.1V172.9M847.50 171.2V172.3M849.50 172.3V180.0M852.50 180.0V186.8M854.50 186.8V193.3M863.50 157.0V159.3M872.50 151.3V158.1M874.50 158.1V166.4M880.50 144.2V153.3M887.50 146.5V151.9M898.50 99.2V100.0M905.50 86.0V101.4" stroke="#df4759" stroke-width="2.0" fill="none"/>
</g>
<line x1="395" y1="145.5" x2="957" y2="145.5" stroke="#5a5a5a" stroke-width="0.9"/>
<line x1="574" y1="343.5" x2="957" y2="343.5" stroke="#5a5a5a" stroke-width="0.9"/>
<line x1="803" y1="66.5" x2="957" y2="66.5" stroke="#4f9688" stroke-width="0.9"/>
<path d="M515 146 C 560 300, 620 348, 652 348 C 690 348, 743 290, 786.5 142" fill="none" stroke="#9332aa" stroke-width="1.7" stroke-linecap="round"/>
<line x1="787.5" y1="131.5" x2="911.5" y2="159.3" stroke="#d94355" stroke-width="1.45"/>
<line x1="781.4" y1="180.3" x2="885.5" y2="214.1" stroke="#d94355" stroke-width="1.45"/>
</svg>
<div class="tag" style="top:60.1px;background:#129b7c">123,288.89</div>
<div class="tag" style="top:138.9px;background:#080808">109,387.35</div>
<div class="tag" style="top:336.9px;background:#080808">74,454.69</div>
<div class="logo"><svg width="10.8" height="5.2" viewBox="0 0 36 20" preserveAspectRatio="none" style="position:absolute;left:0;top:2.9px"><path d="M14 20H7V7H0V0h14v20zM35.5 0L27 20h-8l8.5-20h8z" fill="#1e222d"/><circle cx="20" cy="3.5" r="3.5" fill="#1e222d"/></svg><span>TradingView</span></div>
</body></html>
